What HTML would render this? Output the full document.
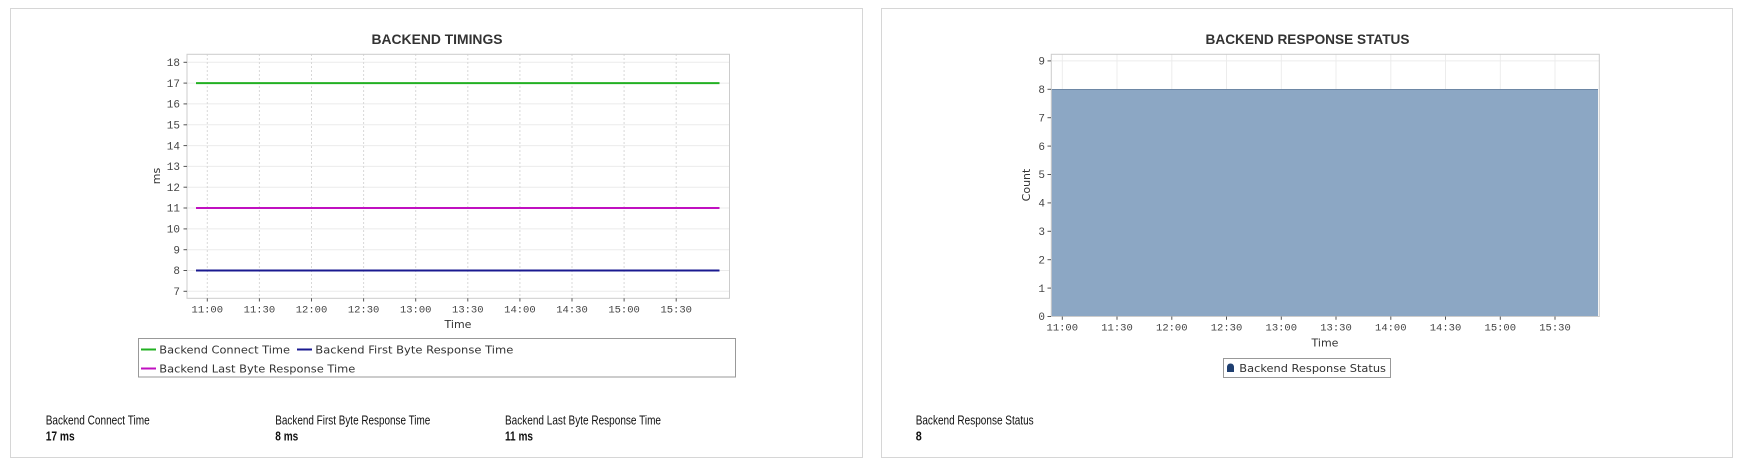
<!DOCTYPE html>
<html><head><meta charset="utf-8"><style>
html,body{margin:0;padding:0;background:#fff;}
svg{display:block;}
</style></head><body>
<svg width="1748" height="469" viewBox="0 0 1748 469" xmlns="http://www.w3.org/2000/svg">
<rect x="0" y="0" width="1748" height="469" fill="#fff"/>
<!-- panels -->
<rect x="10.5" y="8.5" width="852" height="449" fill="#fff" stroke="#d6d6d6" stroke-width="1"/>
<rect x="881.5" y="8.5" width="851" height="449" fill="#fff" stroke="#d6d6d6" stroke-width="1"/>

<!-- LEFT CHART -->
<text x="437" y="44" text-anchor="middle" font-family="Liberation Sans, Arial, sans-serif" font-weight="bold" font-size="14" fill="#333" textLength="131" lengthAdjust="spacingAndGlyphs">BACKEND TIMINGS</text>
<g stroke="#ebebeb" stroke-width="1">
<line x1="187" y1="62.3" x2="729" y2="62.3"/><line x1="187" y1="83.1" x2="729" y2="83.1"/>
<line x1="187" y1="103.9" x2="729" y2="103.9"/><line x1="187" y1="124.8" x2="729" y2="124.8"/>
<line x1="187" y1="145.6" x2="729" y2="145.6"/><line x1="187" y1="166.4" x2="729" y2="166.4"/>
<line x1="187" y1="187.2" x2="729" y2="187.2"/><line x1="187" y1="208" x2="729" y2="208"/>
<line x1="187" y1="228.9" x2="729" y2="228.9"/><line x1="187" y1="249.7" x2="729" y2="249.7"/>
<line x1="187" y1="270.5" x2="729" y2="270.5"/><line x1="187" y1="291.3" x2="729" y2="291.3"/>
</g>
<g stroke="#d8d8d8" stroke-width="1" stroke-dasharray="2,2">
<line x1="207.3" y1="54" x2="207.3" y2="298"/><line x1="259.4" y1="54" x2="259.4" y2="298"/>
<line x1="311.5" y1="54" x2="311.5" y2="298"/><line x1="363.6" y1="54" x2="363.6" y2="298"/>
<line x1="415.7" y1="54" x2="415.7" y2="298"/><line x1="467.8" y1="54" x2="467.8" y2="298"/>
<line x1="519.9" y1="54" x2="519.9" y2="298"/><line x1="572" y1="54" x2="572" y2="298"/>
<line x1="624.1" y1="54" x2="624.1" y2="298"/><line x1="676.2" y1="54" x2="676.2" y2="298"/>
</g>
<rect x="187" y="54.3" width="542.5" height="244" fill="none" stroke="#cccccc" stroke-width="1"/>
<!-- y ticks -->
<g stroke="#555" stroke-width="1">
<line x1="183.5" y1="62.3" x2="187" y2="62.3"/><line x1="183.5" y1="83.1" x2="187" y2="83.1"/>
<line x1="183.5" y1="103.9" x2="187" y2="103.9"/><line x1="183.5" y1="124.8" x2="187" y2="124.8"/>
<line x1="183.5" y1="145.6" x2="187" y2="145.6"/><line x1="183.5" y1="166.4" x2="187" y2="166.4"/>
<line x1="183.5" y1="187.2" x2="187" y2="187.2"/><line x1="183.5" y1="208" x2="187" y2="208"/>
<line x1="183.5" y1="228.9" x2="187" y2="228.9"/><line x1="183.5" y1="249.7" x2="187" y2="249.7"/>
<line x1="183.5" y1="270.5" x2="187" y2="270.5"/><line x1="183.5" y1="291.3" x2="187" y2="291.3"/>
<line x1="207.3" y1="298.3" x2="207.3" y2="301.5"/><line x1="259.4" y1="298.3" x2="259.4" y2="301.5"/>
<line x1="311.5" y1="298.3" x2="311.5" y2="301.5"/><line x1="363.6" y1="298.3" x2="363.6" y2="301.5"/>
<line x1="415.7" y1="298.3" x2="415.7" y2="301.5"/><line x1="467.8" y1="298.3" x2="467.8" y2="301.5"/>
<line x1="519.9" y1="298.3" x2="519.9" y2="301.5"/><line x1="572" y1="298.3" x2="572" y2="301.5"/>
<line x1="624.1" y1="298.3" x2="624.1" y2="301.5"/><line x1="676.2" y1="298.3" x2="676.2" y2="301.5"/>
</g>
<g font-family="Liberation Mono, monospace" font-size="11" fill="#444" text-anchor="end">
<text x="180" y="66">18</text><text x="180" y="86.8">17</text><text x="180" y="107.6">16</text>
<text x="180" y="128.5">15</text><text x="180" y="149.3">14</text><text x="180" y="170.1">13</text>
<text x="180" y="190.9">12</text><text x="180" y="211.7">11</text><text x="180" y="232.6">10</text>
<text x="180" y="253.4">9</text><text x="180" y="274.2">8</text><text x="180" y="295">7</text>
</g>
<g font-family="Liberation Mono, monospace" font-size="10.5" fill="#444" text-anchor="middle">
<text x="207.3" y="312.5">11:00</text><text x="259.4" y="312.5">11:30</text><text x="311.5" y="312.5">12:00</text>
<text x="363.6" y="312.5">12:30</text><text x="415.7" y="312.5">13:00</text><text x="467.8" y="312.5">13:30</text>
<text x="519.9" y="312.5">14:00</text><text x="572" y="312.5">14:30</text><text x="624.1" y="312.5">15:00</text>
<text x="676.2" y="312.5">15:30</text>
</g>
<text x="458" y="328" text-anchor="middle" font-family="DejaVu Sans, sans-serif" font-size="11" fill="#333">Time</text>
<text transform="translate(160,176) rotate(-90)" text-anchor="middle" font-family="DejaVu Sans, sans-serif" font-size="11" fill="#333">ms</text>
<!-- series -->
<line x1="196" y1="83.1" x2="719.5" y2="83.1" stroke="#22b022" stroke-width="2"/>
<line x1="196" y1="208" x2="719.5" y2="208" stroke="#c010c0" stroke-width="2"/>
<line x1="196" y1="270.5" x2="719.5" y2="270.5" stroke="#1a1a90" stroke-width="2"/>
<!-- legend -->
<rect x="138.5" y="338.5" width="597" height="38.5" fill="#fff" stroke="#999" stroke-width="1"/>
<line x1="141" y1="349.5" x2="156" y2="349.5" stroke="#22b022" stroke-width="2"/>
<text x="159.3" y="353.3" font-family="DejaVu Sans, sans-serif" font-size="11" fill="#333" textLength="130.7" lengthAdjust="spacingAndGlyphs">Backend Connect Time</text>
<line x1="297" y1="349.5" x2="312" y2="349.5" stroke="#1a1a90" stroke-width="2"/>
<text x="315.3" y="353.3" font-family="DejaVu Sans, sans-serif" font-size="11" fill="#333" textLength="198" lengthAdjust="spacingAndGlyphs">Backend First Byte Response Time</text>
<line x1="141" y1="368.5" x2="156" y2="368.5" stroke="#c010c0" stroke-width="2"/>
<text x="159.3" y="372.3" font-family="DejaVu Sans, sans-serif" font-size="11" fill="#333" textLength="196" lengthAdjust="spacingAndGlyphs">Backend Last Byte Response Time</text>
<!-- stats -->
<g font-family="Liberation Sans, Arial, sans-serif" fill="#111">
<text x="45.7" y="424.5" font-size="13" textLength="104" lengthAdjust="spacingAndGlyphs">Backend Connect Time</text>
<text x="45.7" y="440.5" font-size="13" font-weight="bold" textLength="29" lengthAdjust="spacingAndGlyphs">17 ms</text>
<text x="275.3" y="424.5" font-size="13" textLength="155" lengthAdjust="spacingAndGlyphs">Backend First Byte Response Time</text>
<text x="275.3" y="440.5" font-size="13" font-weight="bold" textLength="23" lengthAdjust="spacingAndGlyphs">8 ms</text>
<text x="505" y="424.5" font-size="13" textLength="156" lengthAdjust="spacingAndGlyphs">Backend Last Byte Response Time</text>
<text x="505" y="440.5" font-size="13" font-weight="bold" textLength="28" lengthAdjust="spacingAndGlyphs">11 ms</text>
</g>

<!-- RIGHT CHART -->
<text x="1307.5" y="44" text-anchor="middle" font-family="Liberation Sans, Arial, sans-serif" font-weight="bold" font-size="14" fill="#333" textLength="204" lengthAdjust="spacingAndGlyphs">BACKEND RESPONSE STATUS</text>
<g stroke="#ececec" stroke-width="1">
<line x1="1051" y1="60.9" x2="1599" y2="60.9"/>
<line x1="1062.3" y1="54" x2="1062.3" y2="89"/><line x1="1117" y1="54" x2="1117" y2="89"/>
<line x1="1171.8" y1="54" x2="1171.8" y2="89"/><line x1="1226.5" y1="54" x2="1226.5" y2="89"/>
<line x1="1281.3" y1="54" x2="1281.3" y2="89"/><line x1="1336" y1="54" x2="1336" y2="89"/>
<line x1="1390.8" y1="54" x2="1390.8" y2="89"/><line x1="1445.5" y1="54" x2="1445.5" y2="89"/>
<line x1="1500.3" y1="54" x2="1500.3" y2="89"/><line x1="1555" y1="54" x2="1555" y2="89"/>
</g>
<rect x="1051.5" y="89.3" width="546.5" height="227" fill="#8ca7c4"/>
<line x1="1051.5" y1="89.5" x2="1598" y2="89.5" stroke="#6d87a5" stroke-width="1"/>
<rect x="1051.3" y="54.3" width="548" height="262.2" fill="none" stroke="#cccccc" stroke-width="1"/>
<g stroke="#555" stroke-width="1">
<line x1="1047.5" y1="60.9" x2="1051" y2="60.9"/><line x1="1047.5" y1="89.3" x2="1051" y2="89.3"/>
<line x1="1047.5" y1="117.7" x2="1051" y2="117.7"/><line x1="1047.5" y1="146.1" x2="1051" y2="146.1"/>
<line x1="1047.5" y1="174.5" x2="1051" y2="174.5"/><line x1="1047.5" y1="202.9" x2="1051" y2="202.9"/>
<line x1="1047.5" y1="231.3" x2="1051" y2="231.3"/><line x1="1047.5" y1="259.7" x2="1051" y2="259.7"/>
<line x1="1047.5" y1="288.1" x2="1051" y2="288.1"/><line x1="1047.5" y1="316.5" x2="1051" y2="316.5"/>
<line x1="1062.3" y1="316.5" x2="1062.3" y2="319.8"/><line x1="1117" y1="316.5" x2="1117" y2="319.8"/>
<line x1="1171.8" y1="316.5" x2="1171.8" y2="319.8"/><line x1="1226.5" y1="316.5" x2="1226.5" y2="319.8"/>
<line x1="1281.3" y1="316.5" x2="1281.3" y2="319.8"/><line x1="1336" y1="316.5" x2="1336" y2="319.8"/>
<line x1="1390.8" y1="316.5" x2="1390.8" y2="319.8"/><line x1="1445.5" y1="316.5" x2="1445.5" y2="319.8"/>
<line x1="1500.3" y1="316.5" x2="1500.3" y2="319.8"/><line x1="1555" y1="316.5" x2="1555" y2="319.8"/>
</g>
<g font-family="Liberation Mono, monospace" font-size="11" fill="#444" text-anchor="end">
<text x="1045" y="64.6">9</text><text x="1045" y="93">8</text><text x="1045" y="121.4">7</text>
<text x="1045" y="149.8">6</text><text x="1045" y="178.2">5</text><text x="1045" y="206.6">4</text>
<text x="1045" y="235">3</text><text x="1045" y="263.4">2</text><text x="1045" y="291.8">1</text>
<text x="1045" y="320.2">0</text>
</g>
<g font-family="Liberation Mono, monospace" font-size="10.5" fill="#444" text-anchor="middle">
<text x="1062.3" y="330.5">11:00</text><text x="1117" y="330.5">11:30</text><text x="1171.8" y="330.5">12:00</text>
<text x="1226.5" y="330.5">12:30</text><text x="1281.3" y="330.5">13:00</text><text x="1336" y="330.5">13:30</text>
<text x="1390.8" y="330.5">14:00</text><text x="1445.5" y="330.5">14:30</text><text x="1500.3" y="330.5">15:00</text>
<text x="1555" y="330.5">15:30</text>
</g>
<text x="1325" y="346.7" text-anchor="middle" font-family="DejaVu Sans, sans-serif" font-size="11" fill="#333">Time</text>
<text transform="translate(1030,185) rotate(-90)" text-anchor="middle" font-family="DejaVu Sans, sans-serif" font-size="11" fill="#333">Count</text>
<rect x="1223.5" y="358.5" width="167" height="19" fill="#fff" stroke="#999" stroke-width="1"/>
<path d="M1227 372 L1227 367.5 Q1227 363.5 1230.5 363.5 Q1234 363.5 1234 367.5 L1234 372 Z" fill="#1f3f70"/>
<text x="1239.3" y="372" font-family="DejaVu Sans, sans-serif" font-size="11" fill="#333" textLength="146.7" lengthAdjust="spacingAndGlyphs">Backend Response Status</text>
<g font-family="Liberation Sans, Arial, sans-serif" fill="#111">
<text x="915.7" y="424.5" font-size="13" textLength="118" lengthAdjust="spacingAndGlyphs">Backend Response Status</text>
<text x="915.7" y="440.5" font-size="13" font-weight="bold" textLength="6" lengthAdjust="spacingAndGlyphs">8</text>
</g>
</svg>
</body></html>
